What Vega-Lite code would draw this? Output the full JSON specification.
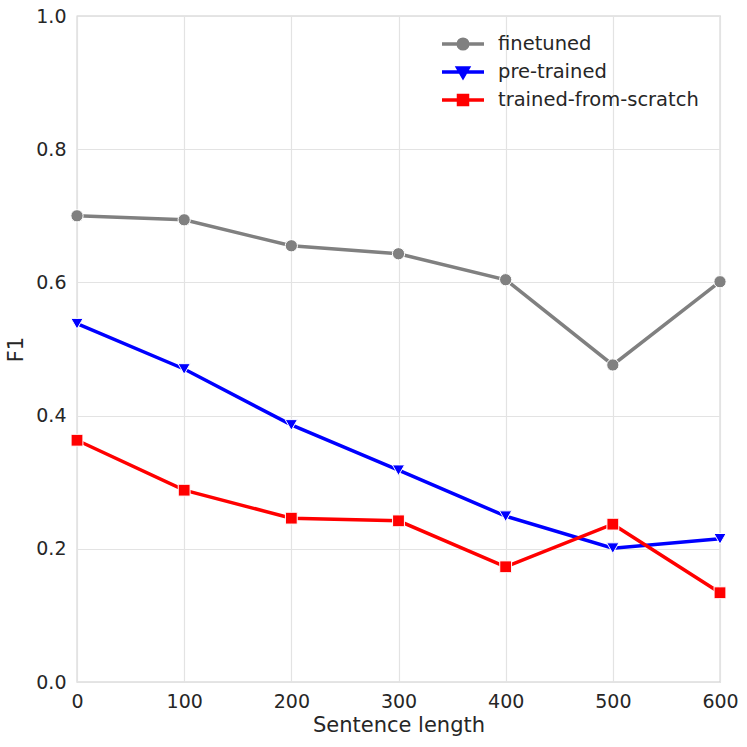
{
  "$schema": "https://vega.github.io/schema/vega-lite/v6.json",
  "width": 643,
  "height": 666,
  "autosize": {"type": "none"},
  "padding": {"left": 77, "top": 16, "right": 27, "bottom": 65},
  "background": "white",
  "config": {
    "font": "DejaVu Sans",
    "view": {"stroke": "#cccccc", "strokeWidth": 1.3},
    "axis": {
      "domain": false,
      "ticks": false,
      "gridColor": "#e3e3e3",
      "gridWidth": 1.2,
      "labelFont": "DejaVu Sans",
      "labelFontSize": 19,
      "labelColor": "#262626",
      "labelFlush": false,
      "titleFont": "DejaVu Sans",
      "titleFontSize": 21,
      "titleFontWeight": "normal",
      "titleColor": "#262626"
    }
  },
  "data": {
    "values": [
      {"length": 0, "F1": 0.700, "model": "finetuned"},
      {"length": 100, "F1": 0.694, "model": "finetuned"},
      {"length": 200, "F1": 0.655, "model": "finetuned"},
      {"length": 300, "F1": 0.643, "model": "finetuned"},
      {"length": 400, "F1": 0.604, "model": "finetuned"},
      {"length": 500, "F1": 0.476, "model": "finetuned"},
      {"length": 600, "F1": 0.601, "model": "finetuned"},
      {"length": 0, "F1": 0.538, "model": "pre-trained"},
      {"length": 100, "F1": 0.470, "model": "pre-trained"},
      {"length": 200, "F1": 0.386, "model": "pre-trained"},
      {"length": 300, "F1": 0.318, "model": "pre-trained"},
      {"length": 400, "F1": 0.249, "model": "pre-trained"},
      {"length": 500, "F1": 0.201, "model": "pre-trained"},
      {"length": 600, "F1": 0.215, "model": "pre-trained"},
      {"length": 0, "F1": 0.363, "model": "trained-from-scratch"},
      {"length": 100, "F1": 0.288, "model": "trained-from-scratch"},
      {"length": 200, "F1": 0.246, "model": "trained-from-scratch"},
      {"length": 300, "F1": 0.242, "model": "trained-from-scratch"},
      {"length": 400, "F1": 0.173, "model": "trained-from-scratch"},
      {"length": 500, "F1": 0.237, "model": "trained-from-scratch"},
      {"length": 600, "F1": 0.134, "model": "trained-from-scratch"}
    ]
  },
  "encoding": {
    "x": {
      "field": "length",
      "type": "quantitative",
      "title": "Sentence length",
      "scale": {"domain": [0, 600], "nice": false},
      "axis": {"values": [0, 100, 200, 300, 400, 500, 600], "labelPadding": 10, "titlePadding": 3}
    },
    "y": {
      "field": "F1",
      "type": "quantitative",
      "title": "F1",
      "scale": {"domain": [0, 1], "nice": false},
      "axis": {"values": [0, 0.2, 0.4, 0.6, 0.8, 1.0], "format": ".1f", "labelPadding": 11, "titlePadding": 9}
    },
    "color": {
      "field": "model",
      "type": "nominal",
      "scale": {
        "domain": ["finetuned", "pre-trained", "trained-from-scratch"],
        "range": ["#808080", "#0000ff", "#ff0000"]
      },
      "legend": {
        "title": null,
        "orient": "none",
        "legendX": 374,
        "legendY": 16,
        "padding": 0,
        "symbolSize": 400,
        "symbolStrokeWidth": 3,
        "labelFontSize": 19.5,
        "labelColor": "#262626",
        "labelLimit": 400,
        "labelOffset": 23,
        "rowPadding": 4,
        "encode": {
          "symbols": {
            "update": {
              "shape": {"signal": "datum.value === 'finetuned' ? 'M-2.1,0H2.1M0.48,0A0.48,0.48 0 1,1 -0.48,0A0.48,0.48 0 1,1 0.48,0Z' : datum.value === 'pre-trained' ? 'M-2.1,0H2.1M-0.52,-0.4L0.52,-0.4L0,0.5Z' : 'M-2.1,0H2.1M-0.45,-0.45H0.45V0.45H-0.45Z'"},
              "fill": {"signal": "scale('color', datum.value)"},
              "stroke": {"signal": "scale('color', datum.value)"},
              "strokeWidth": {"value": 3.5}
            }
          }
        }
      }
    }
  },
  "layer": [
    {
      "mark": {"type": "line", "strokeWidth": 3.5}
    },
    {
      "transform": [{"filter": "datum.model === 'finetuned'"}],
      "mark": {"type": "point", "shape": "circle", "filled": true, "size": 150, "stroke": "white", "strokeWidth": 1, "opacity": 1}
    },
    {
      "transform": [{"filter": "datum.model === 'pre-trained'"}],
      "mark": {"type": "point", "shape": "triangle-down", "filled": true, "size": 150, "stroke": "white", "strokeWidth": 1, "opacity": 1}
    },
    {
      "transform": [{"filter": "datum.model === 'trained-from-scratch'"}],
      "mark": {"type": "point", "shape": "square", "filled": true, "size": 140, "stroke": "white", "strokeWidth": 1, "opacity": 1}
    }
  ]
}
